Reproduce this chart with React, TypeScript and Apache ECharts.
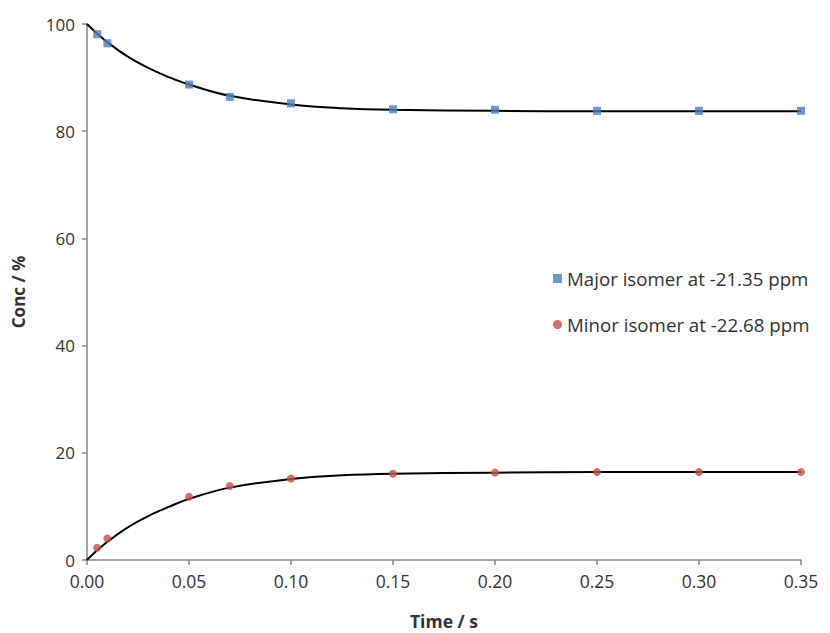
import React, { useEffect, useRef } from "react";
import * as echarts from "echarts";

const timePoints = [0.005, 0.01, 0.05, 0.07, 0.1, 0.15, 0.2, 0.25, 0.3, 0.35];
const majorValues = [98.1, 96.4, 88.7, 86.4, 85.2, 84.1, 84.0, 83.8, 83.8, 83.8];
const minorValues = [2.3, 4.0, 11.8, 13.8, 15.2, 16.1, 16.3, 16.4, 16.4, 16.4];

const fitTimes = [0, 0.005, 0.01, 0.02, 0.03, 0.04, 0.05, 0.07, 0.1, 0.125, 0.15, 0.2, 0.25, 0.3, 0.35];
const majorFit = [100, 98.2, 96.6, 93.9, 91.8, 90.1, 88.7, 86.6, 85.0, 84.3, 84.0, 83.8, 83.7, 83.7, 83.7];
const minorFit = [0, 1.8, 3.4, 6.1, 8.2, 9.9, 11.4, 13.5, 15.1, 15.8, 16.1, 16.3, 16.4, 16.4, 16.4];

const majorName = "Major isomer at -21.35 ppm";
const minorName = "Minor isomer at -22.68 ppm";

const zip = (xs: number[], ys: number[]) => xs.map((x, i) => [x, ys[i]]);

export default function App() {
  const ref = useRef<HTMLDivElement>(null);
  useEffect(() => {
    if (!ref.current) return;
    const chart = echarts.init(ref.current, null, { renderer: "svg" });
    const font = "Open Sans";
    const textColor = "#333333";
    const axisColor = "#868686";
    chart.setOption({
      animation: false,
      backgroundColor: "#ffffff",
      grid: { left: 87, right: 29, top: 24, bottom: 73, containLabel: false, outerBoundsMode: "none" },
      legend: {
        orient: "vertical",
        left: 553,
        top: 269,
        padding: 0,
        itemGap: 27,
        itemWidth: 9,
        itemHeight: 9,
        textStyle: { color: textColor, fontSize: 18.7, fontFamily: font },
        data: [
          { name: majorName, icon: "rect" },
          { name: minorName, icon: "circle" },
        ],
      },
      xAxis: {
        type: "value",
        min: 0,
        max: 0.35,
        interval: 0.05,
        name: "Time / s",
        nameLocation: "middle",
        nameGap: 52,
        nameTextStyle: { color: textColor, fontSize: 17.5, fontWeight: "bold", fontFamily: font },
        axisLine: { show: true, lineStyle: { color: axisColor, width: 1.5 } },
        axisTick: { show: true, length: 5, lineStyle: { color: axisColor, width: 1.5 } },
        axisLabel: {
          color: textColor,
          fontSize: 17.5,
          fontFamily: font,
          margin: 12,
          formatter: (v: number) => v.toFixed(2),
        },
        splitLine: { show: false },
      },
      yAxis: {
        type: "value",
        min: 0,
        max: 100,
        interval: 20,
        name: "Conc / %",
        nameLocation: "middle",
        nameGap: 60,
        nameRotate: 90,
        nameTextStyle: { color: textColor, fontSize: 17, fontWeight: "bold", fontFamily: font },
        axisLine: { show: true, lineStyle: { color: axisColor, width: 1.5 } },
        axisTick: { show: true, length: 5, lineStyle: { color: axisColor, width: 1.5 } },
        axisLabel: { color: textColor, fontSize: 17, fontFamily: font, margin: 12 },
        splitLine: { show: false },
      },
      series: [
        {
          name: "majorFit",
          type: "line",
          data: zip(fitTimes, majorFit),
          smooth: 0.4,
          showSymbol: false,
          symbol: "none",
          lineStyle: { color: "#000000", width: 2 },
          z: 1,
        },
        {
          name: "minorFit",
          type: "line",
          data: zip(fitTimes, minorFit),
          smooth: 0.4,
          showSymbol: false,
          symbol: "none",
          lineStyle: { color: "#000000", width: 2 },
          z: 1,
        },
        {
          name: majorName,
          type: "scatter",
          data: zip(timePoints, majorValues),
          symbol: "rect",
          symbolSize: 8,
          itemStyle: { color: "#4A7EBB" },
          z: 3,
        },
        {
          name: minorName,
          type: "scatter",
          data: zip(timePoints, minorValues),
          symbol: "circle",
          symbolSize: 8,
          itemStyle: { color: "#C0504D" },
          z: 3,
        },
      ],
    });
    return () => chart.dispose();
  }, []);
  return <div ref={ref} style={{ width: 830, height: 633, position: "absolute", left: 0, top: 0 }} />;
}
